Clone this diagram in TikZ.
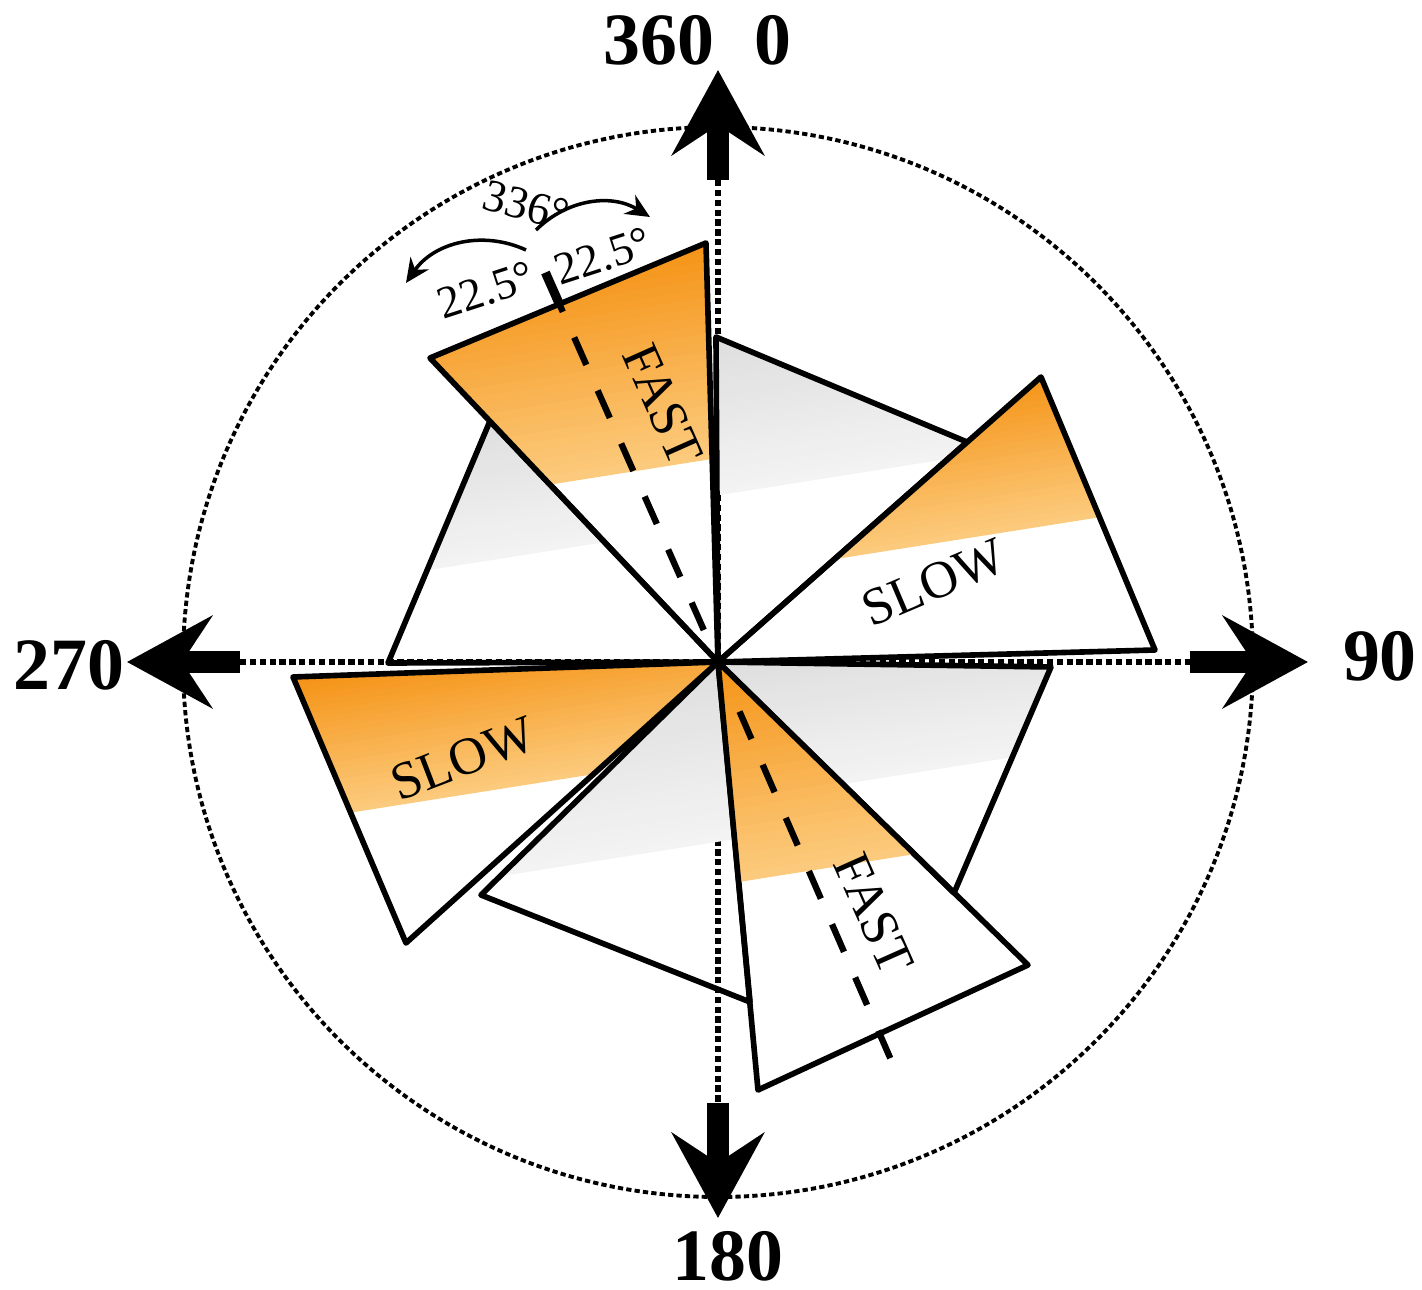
\documentclass[tikz,border=0pt]{standalone}
\usepackage{fontspec}
\setmainfont{Liberation Serif}
\usetikzlibrary{arrows.meta,calc}
\definecolor{fasttop}{RGB}{245,148,24}
\definecolor{fastlow}{RGB}{252,202,124}
\definecolor{greytop}{RGB}{222,222,222}
\definecolor{greylow}{RGB}{243,243,243}
% #1,#2 outer corners, #3 point on the colour edge, #4 height of the band, #5 top colour, #6 colour at the edge
\newcommand{\wedgeshade}[6]{%
  \begin{scope}
    \clip (c) -- #1 -- #2 -- cycle;
    \foreach \i in {0,...,23} {
      \pgfmathsetmacro{\ta}{#4*\i/24}
      \pgfmathsetmacro{\tb}{\i==23 ? #4+4 : #4*(\i+1)/24+0.01}
      \pgfmathtruncatemacro{\pct}{100*\i/23}
      \fill[fill=#5!\pct!#6] ($#3+(189:6)+(99:\ta)$) -- ($#3+(9:6)+(99:\ta)$)
        -- ($#3+(9:6)+(99:\tb)$) -- ($#3+(189:6)+(99:\tb)$) -- cycle;
    }
  \end{scope}
  \draw[wedgeline] (c) -- #1 -- #2 -- cycle;
}

\begin{document}
\begin{tikzpicture}[x=1cm,y=1cm,
  wedgeline/.style={draw=black, line width=1.6pt, line join=round},
  axisline/.style={line width=1.5pt, dash pattern=on 1.8pt off 1pt},
  axisarrow/.style={line width=6pt, -{Stealth[length=0.85cm, width=0.92cm, inset=0.3cm]}},
  midline/.style={line width=1.8pt, dash pattern=on 0.3cm off 0.28cm},
  axislabel/.style={font=\fontsize{21}{24}\selectfont\bfseries, inner sep=0pt},
  wordlabel/.style={font=\fontsize{15}{18}\selectfont, inner sep=0pt},
  anglabel/.style={font=\fontsize{13}{15}\selectfont, inner sep=0pt},
  bendarrow/.style={line width=1pt, -{Stealth[length=2.4mm, width=2.2mm]}}]
\useasboundingbox (-7.18,-6.28) rectangle (7.04,6.62);

\coordinate (c) at (0,0);
\coordinate (nt) at (0,4.82);
\coordinate (ntip) at (0,5.92);
\coordinate (st) at (0,-4.41);
\coordinate (stip) at (0,-5.56);
\coordinate (wt) at (-4.78,0);
\coordinate (wtip) at (-5.91,0);
\coordinate (et) at (4.72,0);
\coordinate (etip) at (5.90,0);

% compass circle and axes
\draw[line width=1.1pt, dash pattern=on 1.5pt off 0.9pt] (c) circle (5.35);
\draw[axisline] (nt) -- (st);
\draw[axisline] (wt) -- (et);
\draw[axisarrow] (nt) -- (ntip);
\draw[axisarrow] (st) -- (stip);
\draw[axisarrow] (wt) -- (wtip);
\draw[axisarrow] (et) -- (etip);

% grey wedges
\wedgeshade{(-0.02,3.25)}{(2.49,2.20)}{(1.03,1.83)}{1.55}{greytop}{greylow}
\wedgeshade{(3.33,-0.05)}{(2.36,-2.31)}{(1.32,-1.21)}{1.4}{greytop}{greylow}
\wedgeshade{(0.32,-3.40)}{(-2.37,-2.33)}{(-1.15,-1.98)}{1.8}{greytop}{greylow}
\wedgeshade{(-3.30,-0.01)}{(-2.28,2.41)}{(-2.07,1.05)}{1.4}{greytop}{greylow}

% orange wedges
\wedgeshade{(-0.12,4.19)}{(-2.88,3.04)}{(-0.85,1.905)}{2.14}{fasttop}{fastlow}
\wedgeshade{(3.23,2.85)}{(4.37,0.12)}{(2.57,1.25)}{1.5}{fasttop}{fastlow}
\wedgeshade{(-4.25,-0.15)}{(-3.12,-2.81)}{(-2.40,-1.305)}{1.4}{fasttop}{fastlow}
\wedgeshade{(3.10,-3.03)}{(0.40,-4.28)}{(1.06,-2.065)}{2.2}{fasttop}{fastlow}

% centre lines of the fast wedges
\coordinate (ma) at (113.9:0.35);
\coordinate (mb) at (113.9:3.92);
\coordinate (mc) at (113.9:4.26);
\coordinate (md) at (-66.5:0.54);
\coordinate (me) at (-66.5:4.57);
\draw[midline] (ma) -- (mb);
\draw[line width=2.6pt] (mb) -- (mc);
\draw[midline] (md) -- (me);

% labels
\node[axislabel] (l360) at (-0.59,6.22) {360};
\node[axislabel] (l0) at (0.55,6.22) {0};
\node[axislabel] (l270) at (-6.49,-0.03) {270};
\node[axislabel] (l90) at (6.62,0.06) {90};
\node[axislabel] (l180) at (0.10,-5.94) {180};

\node[wordlabel, rotate=-66] (fastn) at (-0.55,2.57) {FAST};
\node[wordlabel, rotate=-66] (fasts) at (1.56,-2.52) {FAST};
\node[wordlabel, rotate=23] (slowe) at (2.16,0.79) {SLOW};
\node[wordlabel, rotate=21] (sloww) at (-2.55,-0.97) {SLOW};

\node[anglabel, rotate=-15] (a336) at (-1.92,4.57) {336°};
\node[anglabel, rotate=18] (aleft) at (-2.32,3.72) {22.5°};
\node[anglabel, rotate=18] (aright) at (-1.15,4.06) {22.5°};

\coordinate (r1) at (-1.82,4.32);
\coordinate (r2) at (-0.68,4.45);
\coordinate (q1) at (-1.92,4.12);
\coordinate (q2) at (-3.12,3.79);
\draw[bendarrow] (r1) to[bend left=38] (r2);
\draw[bendarrow] (q1) to[bend right=40] (q2);
\end{tikzpicture}
\end{document}
